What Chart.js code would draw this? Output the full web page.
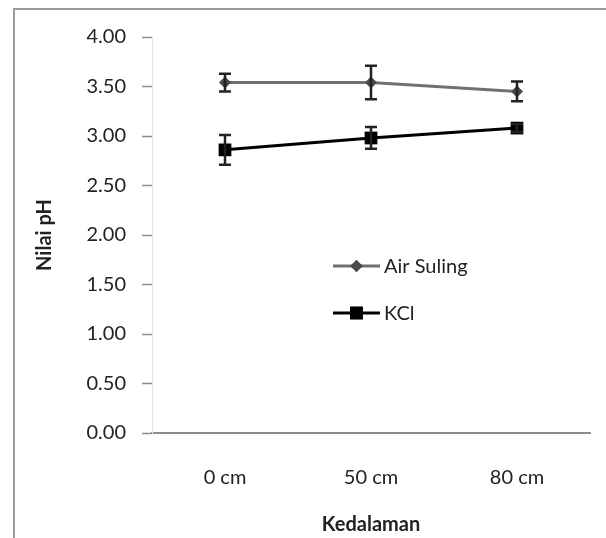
<!DOCTYPE html>
<html>
<head>
<meta charset="utf-8">
<script src="https://cdn.jsdelivr.net/npm/chart.js@4.4.1/dist/chart.umd.min.js"></script>
<style>
  html, body { margin: 0; padding: 0; background: #fff; }
  #wrap { width: 606px; height: 538px; position: relative; }
</style>
</head>
<body>
<div id="wrap"><canvas id="ph-chart" width="606" height="538"></canvas></div>
<script>
const depths = ['0 cm', '50 cm', '80 cm'];
const airSuling = [3.54, 3.54, 3.45];
const airSulingErr = [0.09, 0.17, 0.10];
const kcl = [2.86, 2.98, 3.08];
const kclErr = [0.15, 0.11, 0.04];

const FONT = 'Lato, "Open Sans", sans-serif';

// frame round the whole figure, like the exported Excel chart
const framePlugin = {
  id: 'frame',
  beforeDraw(chart) {
    const ctx = chart.ctx;
    ctx.save();
    ctx.fillStyle = '#fff';
    ctx.fillRect(0, 0, chart.width, chart.height);
    ctx.strokeStyle = '#9a9a9a';
    ctx.lineWidth = 2;
    ctx.beginPath();
    ctx.moveTo(14, chart.height);
    ctx.lineTo(14, 9);
    ctx.lineTo(chart.width, 9);
    ctx.stroke();
    ctx.restore();
  }
};

// error bars read from each dataset's errors array
const errorBarPlugin = {
  id: 'errorBars',
  afterDatasetsDraw(chart) {
    const ctx = chart.ctx;
    const yScale = chart.scales.y;
    ctx.save();
    ctx.strokeStyle = '#222';
    ctx.lineWidth = 2.5;
    chart.data.datasets.forEach((ds, di) => {
      const meta = chart.getDatasetMeta(di);
      meta.data.forEach((pt, i) => {
        const e = ds.errors[i];
        const top = yScale.getPixelForValue(ds.data[i] + e);
        const bot = yScale.getPixelForValue(ds.data[i] - e);
        ctx.beginPath();
        ctx.moveTo(pt.x, top); ctx.lineTo(pt.x, bot);
        ctx.moveTo(pt.x - 6, top); ctx.lineTo(pt.x + 6, top);
        ctx.moveTo(pt.x - 6, bot); ctx.lineTo(pt.x + 6, bot);
        ctx.stroke();
      });
    });
    ctx.restore();
  }
};

// legend sits inside the plot, drawn from the datasets themselves
const innerLegendPlugin = {
  id: 'innerLegend',
  afterDraw(chart) {
    const ctx = chart.ctx;
    const x0 = 333, x1 = 380, rows = [266, 313];
    ctx.save();
    chart.data.datasets.forEach((ds, i) => {
      const y = rows[i];
      ctx.strokeStyle = ds.borderColor;
      ctx.lineWidth = ds.borderWidth;
      ctx.beginPath();
      ctx.moveTo(x0, y); ctx.lineTo(x1, y);
      ctx.stroke();
      Chart.helpers.drawPoint(ctx, {
        pointStyle: ds.pointStyle,
        radius: ds.pointRadius,
        borderWidth: 0
      }, (x0 + x1) / 2, y);
      ctx.fillStyle = ds.pointBackgroundColor;
      ctx.fill();
      ctx.fillStyle = '#222';
      ctx.font = '20px ' + FONT;
      ctx.textBaseline = 'middle';
      ctx.fillText(ds.label, x1 + 4, y + 1);
    });
    ctx.restore();
  }
};

window.addEventListener('DOMContentLoaded', () => {
  const box = document.getElementById('ph-chart');
  new Chart(box, {
    type: 'line',
    data: {
      labels: depths,
      datasets: [
        {
          label: 'Air Suling',
          data: airSuling,
          errors: airSulingErr,
          borderColor: '#707070',
          borderWidth: 3,
          pointStyle: 'rectRot',
          pointRadius: 6,
          pointBackgroundColor: '#4a4a4a',
          pointBorderColor: '#4a4a4a',
          pointBorderWidth: 0,
          tension: 0
        },
        {
          label: 'KCl',
          data: kcl,
          errors: kclErr,
          borderColor: '#000',
          borderWidth: 3,
          pointStyle: 'rect',
          pointRadius: 9,
          pointBackgroundColor: '#000',
          pointBorderColor: '#000',
          pointBorderWidth: 0,
          tension: 0
        }
      ]
    },
    options: {
      responsive: false,
      animation: false,
      layout: { padding: { left: 0, top: 37, right: 16, bottom: 0 } },
      plugins: {
        legend: { display: false },
        tooltip: { enabled: false }
      },
      scales: {
        x: {
          offset: true,
          grid: { display: false, offset: true },
          border: { display: true, color: '#8c8c8c', width: 2 },
          ticks: { color: '#222', font: { family: FONT, size: 20 }, padding: 25 },
          title: {
            display: true,
            text: 'Kedalaman',
            color: '#222',
            font: { family: FONT, size: 20, weight: 'bold' },
            padding: { top: 0, bottom: 1 }
          },
          afterFit(scale) { scale.height = 105; }
        },
        y: {
          min: 0,
          max: 4,
          ticks: {
            stepSize: 0.5,
            color: '#222',
            font: { family: FONT, size: 20 },
            padding: 16,
            callback: (v) => Number(v).toFixed(2)
          },
          grid: { drawOnChartArea: false, tickLength: 10, color: '#8c8c8c', tickWidth: 1.5 },
          border: { display: true, color: '#e6e6e6', width: 1 },
          title: {
            display: true,
            text: 'Nilai pH',
            color: '#222',
            font: { family: FONT, size: 20, weight: 'bold' },
            padding: { top: 33, bottom: 0 }
          },
          afterFit(scale) { scale.width = 152; }
        }
      }
    },
    plugins: [framePlugin, errorBarPlugin, innerLegendPlugin]
  });
});
</script>
</body>
</html>
